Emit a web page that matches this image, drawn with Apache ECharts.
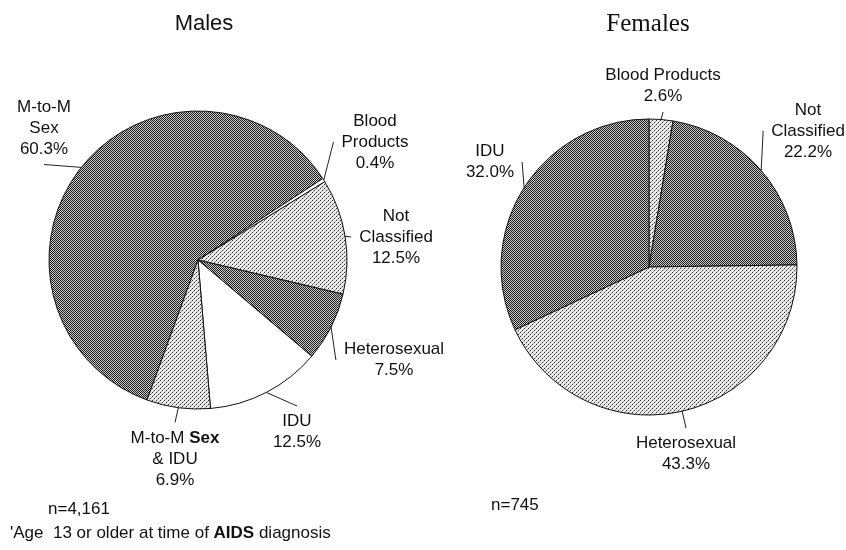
<!DOCTYPE html>
<html>
<head>
<meta charset="utf-8">
<script src="https://cdn.jsdelivr.net/npm/echarts@6/dist/echarts.min.js"></script>
<style>
  html, body { margin: 0; background: #fff; }
  #main { width: 846px; height: 550px; }
</style>
</head>
<body>
<div id="main"></div>
<script>
// data
const maleNames = ['M-to-M Sex', 'Blood Products', 'Not Classified', 'Heterosexual', 'IDU', 'M-to-M Sex & IDU'];
const maleLabels = ['M-to-M\nSex', 'Blood\nProducts', 'Not\nClassified', 'Heterosexual', 'IDU', 'M-to-M {b|Sex}\n& IDU'];
const maleValues = [60.3, 0.4, 12.5, 7.5, 12.5, 6.9];

const femaleNames = ['Blood Products', 'Not Classified', 'Heterosexual', 'IDU'];
const femaleLabels = ['Blood Products', 'Not\nClassified', 'Heterosexual', 'IDU'];
const femaleValues = [2.6, 22.2, 43.3, 32.0];

const maleCount = 'n=4,161';
const femaleCount = 'n=745';

// where each label block sits (centre)
const maleLabelPos = [[44, 128], [375, 142], [396, 237], [394, 360], [297, 432], [175, 459]];
const femaleLabelPos = [[663, 86], [808, 131], [686, 454], [490, 162]];

const FONT = '"Liberation Sans", Arial, sans-serif';

// dithered fills like the printed original
function pattern(w, h, bg, dots) {
    const c = document.createElement('canvas');
    c.width = w; c.height = h;
    const ctx = c.getContext('2d');
    ctx.fillStyle = bg;
    ctx.fillRect(0, 0, w, h);
    dots.forEach(d => {
        ctx.fillStyle = d[2];
        ctx.fillRect(d[0], d[1], 1, 1);
    });
    return { image: c, repeat: 'repeat' };
}
const dark = pattern(2, 2, '#cccccc', [[0, 0, '#1a1a1a'], [1, 1, '#1a1a1a']]);
const light = pattern(4, 4, '#ebebeb', [[0, 0, '#303030'], [2, 2, '#303030'], [1, 3, '#a0a0a0'], [3, 1, '#a0a0a0']]);
const white = '#ffffff';

const maleFills = [dark, white, light, dark, white, light];
const femaleFills = [light, dark, light, dark];

function buildData(names, values, labels, fills) {
    return names.map((n, i) => ({
        name: n,
        value: values[i],
        label: { formatter: labels[i] + '\n' + values[i].toFixed(1) + '%' },
        itemStyle: { color: fills[i] }
    }));
}

function pieSeries(center, radius, startAngle, data, pos) {
    return {
        type: 'pie',
        center: center,
        radius: radius,
        startAngle: startAngle,
        clockwise: true,
        avoidLabelOverlap: false,
        animation: false,
        silent: true,
        itemStyle: { borderColor: '#111', borderWidth: 1 },
        label: {
            show: true,
            position: 'outside',
            color: '#111',
            fontFamily: FONT,
            fontSize: 17,
            lineHeight: 21,
            align: 'center',
            padding: [5, 8],
            rich: { b: { fontFamily: FONT, fontSize: 17, fontWeight: 'bold', color: '#111', lineHeight: 21 } }
        },
        labelLine: {
            show: true,
            length: 8,
            length2: 0,
            lineStyle: { color: '#222', width: 1 }
        },
        labelLayout: function (p) {
            const c = pos[p.dataIndex];
            return { x: c[0], y: c[1], align: 'center', verticalAlign: 'middle' };
        },
        emphasis: { disabled: true },
        data: data
    };
}

const chart = echarts.init(document.getElementById('main'));
chart.setOption({
    backgroundColor: '#fff',
    graphic: [
        { type: 'text', x: 204, y: 24, style: { text: 'Males', fill: '#111', font: '22px ' + FONT, align: 'center', verticalAlign: 'middle' } },
        { type: 'text', x: 648, y: 24, style: { text: 'Females', fill: '#111', font: '25px "Liberation Serif", "Times New Roman", serif', align: 'center', verticalAlign: 'middle' } },
        { type: 'text', x: 48, y: 509, style: { text: maleCount, fill: '#111', font: '17px ' + FONT, align: 'left', verticalAlign: 'middle' } },
        { type: 'text', x: 491, y: 505, style: { text: femaleCount, fill: '#111', font: '17px ' + FONT, align: 'left', verticalAlign: 'middle' } },
        {
            type: 'text', x: 10, y: 533,
            style: {
                text: "'Age  13 or older at time of {b|AIDS} diagnosis",
                fill: '#111', font: '17px ' + FONT, align: 'left', verticalAlign: 'middle',
                rich: { b: { fontWeight: 'bold', fontSize: 17, fontFamily: FONT, fill: '#111' } }
            }
        }
    ],
    series: [
        pieSeries([198, 260], 149, 250, buildData(maleNames, maleValues, maleLabels, maleFills), maleLabelPos),
        pieSeries([649, 267], 148, 90, buildData(femaleNames, femaleValues, femaleLabels, femaleFills), femaleLabelPos)
    ]
});
</script>
</body>
</html>
